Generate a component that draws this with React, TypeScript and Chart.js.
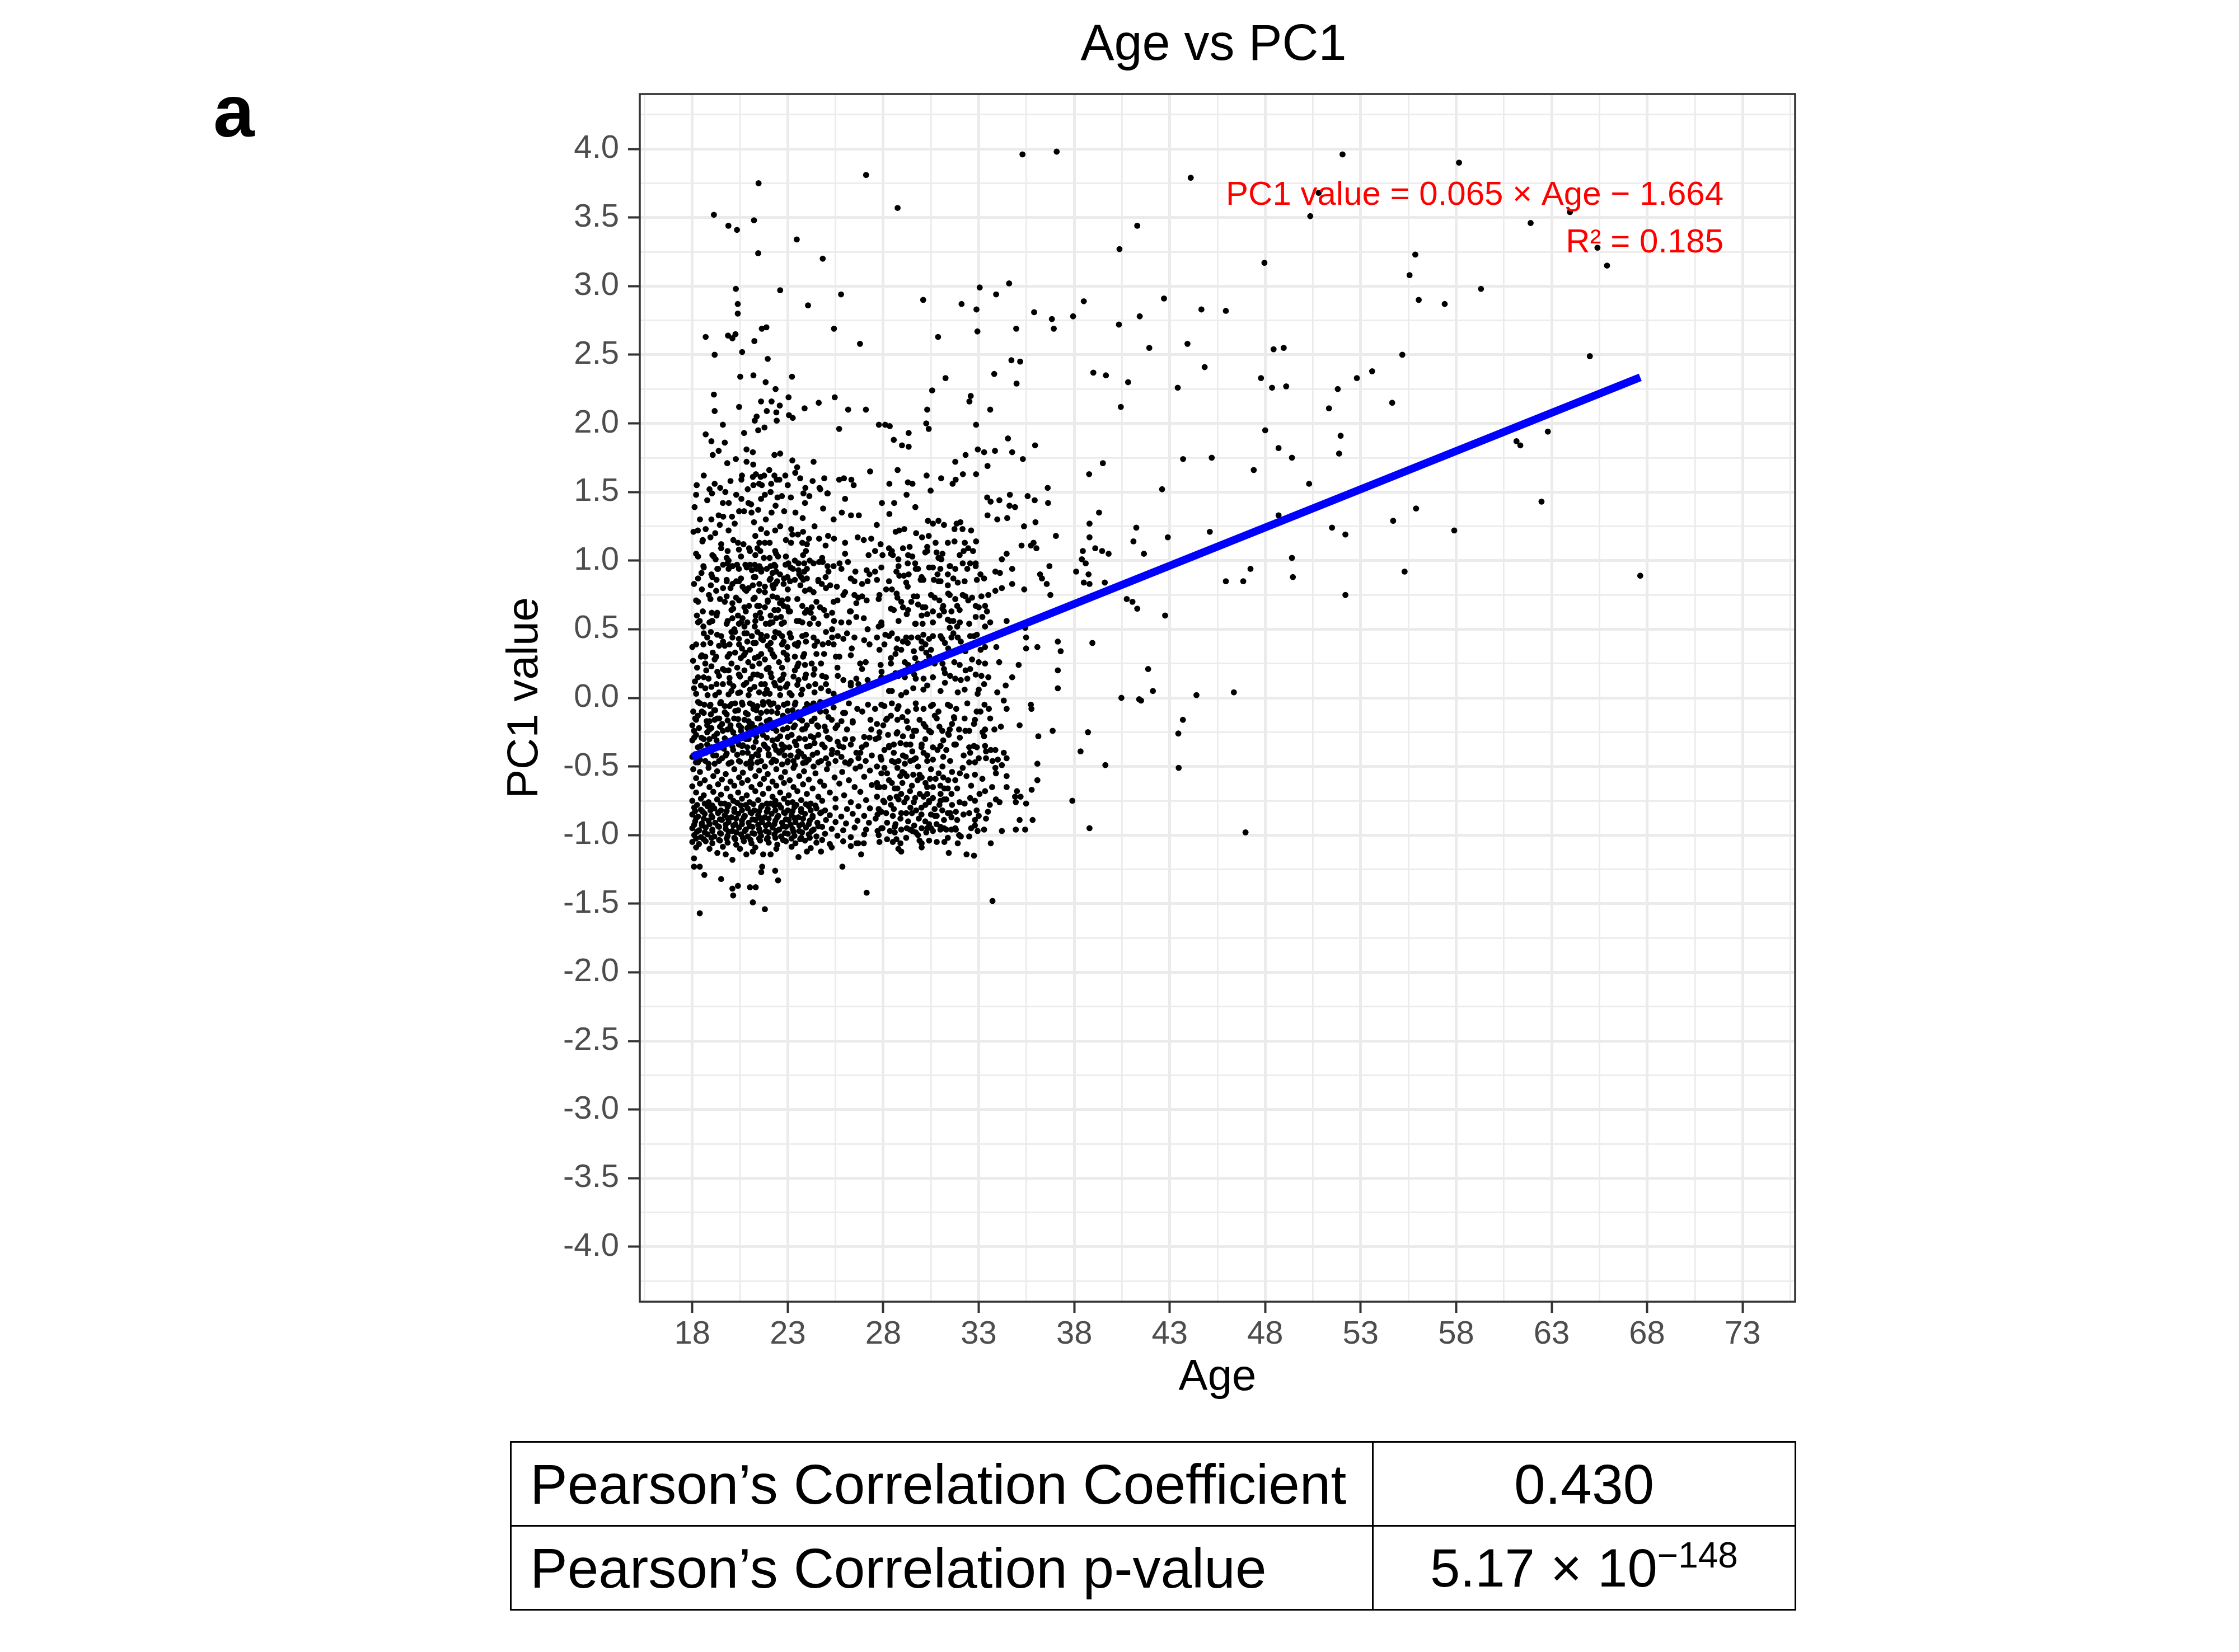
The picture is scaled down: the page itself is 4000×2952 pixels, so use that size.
import React, { useEffect, useRef } from "react";
import { Chart, registerables } from "chart.js";

Chart.register(...registerables);

const FONT = "'Liberation Sans', Arial, Helvetica, sans-serif";

// axis breaks (ggplot style: labelled majors + unlabelled minors)
const xMajorTicks = [18, 23, 28, 33, 38, 43, 48, 53, 58, 63, 68, 73];
const xMinorTicks = [15.5, 20.5, 25.5, 30.5, 35.5, 40.5, 45.5, 50.5, 55.5, 60.5, 65.5, 70.5, 75.5];
const yMajorTicks = [-4, -3.5, -3, -2.5, -2, -1.5, -1, -0.5, 0, 0.5, 1, 1.5, 2, 2.5, 3, 3.5, 4];
const yMinorTicks = [-4.25, -3.75, -3.25, -2.75, -2.25, -1.75, -1.25, -0.75, -0.25, 0.25, 0.75, 1.25, 1.75, 2.25, 2.75, 3.25, 3.75, 4.25];

// fitted line, as drawn
const fitAge = [18, 67.64];
const fitPc1 = [-0.43, 2.336];

const equationText = "PC1 value = 0.065 × Age − 1.664";
const r2Text = "R² = 0.185";
const annotAge = 72.0;
const annotPc1 = [3.593, 3.246];

const tableLabels = ["Pearson’s Correlation Coefficient", "Pearson’s Correlation p-value"];
const coefText = "0.430";
const pMantissa = "5.17";
const pExponent = "−148";

// [age, PC1] pairs
const upperSparse: [number, number][] = [
  [35.29,3.96],[37.08,3.98],[27.1,3.81],[21.47,3.75],[28.75,3.57],[19.13,3.52],[19.89,3.44],[20.34,3.41],[21.23,3.48],[21.45,3.24],[23.47,3.34],[24.83,3.2],
  [20.28,2.98],[20.38,2.87],[20.38,2.8],[22.6,2.97],[24.06,2.86],[25.79,2.94],[30.09,2.9],[32.1,2.87],[32.88,2.83],[33.05,2.99],[33.91,2.94],[34.59,3.02],[35.9,2.81],[36.83,2.76],[36.93,2.69],
  [18.7,2.63],[19.17,2.5],[19.87,2.64],[20.1,2.62],[20.26,2.65],[21.25,2.6],[21.64,2.69],[21.88,2.7],[20.61,2.52],[21.95,2.47],[25.42,2.69],[26.78,2.58],[30.87,2.63],[32.93,2.67],[34.96,2.69],
  [19.13,2.21],[19.17,2.09],[19.6,1.99],[20.51,2.34],[21.2,2.35],[21.84,2.3],[22.36,2.25],[20.45,2.12],[21.27,2.02],[21.37,2.05],[21.6,2.16],[21.9,2.09],[22.15,2.16],[22.4,2.08],[22.58,2.13],[22.42,2.02],[23.04,2.19],[23.22,2.34],[23.06,2.06],[23.26,2.04],[21.45,1.95],[21.78,1.97],[23.88,2.11],[24.62,2.15],[25.46,2.19],[26.16,2.1],[27.09,2.1],[25.69,1.96],[27.77,1.99],[28.1,1.99],[28.34,1.98],[28.55,1.88],[28.98,1.84],[29.33,1.83],[29.33,1.93],[30.25,2.0],[30.38,1.96],[30.56,2.24],[30.3,2.1],[31.26,2.33],[32.51,2.16],[32.58,2.2],[32.86,1.99],[33.6,2.1],[33.81,2.36],[34.71,2.46],[35.17,2.45],[34.98,2.29],[34.53,1.89],[35.95,1.84],[34.75,1.79],[35.31,1.74],[32.31,1.77],[32.95,1.81],[33.28,1.79],[33.85,1.8],[33.46,1.69],[32.86,1.63],
  [18.7,1.92],[19.0,1.87],[19.7,1.86],[19.07,1.77],[19.38,1.8],[19.83,1.71],[20.28,1.74],[20.57,1.59],[20.71,1.93],[20.84,1.81],[20.84,1.72],[21.17,1.79],[21.19,1.7],[21.17,1.61],[21.33,1.63],[21.58,1.61],[21.76,1.62],[22.03,1.66],[21.5,1.56],[21.64,1.55],[22.13,1.56],[22.42,1.59],[22.56,1.59],[22.3,1.77],[22.6,1.78],[22.87,1.62],[23.24,1.73],[23.49,1.68],[23.39,1.64],[23.65,1.6],[23.92,1.53],[24.35,1.72],[23.82,1.49],[24.7,1.52],[24.91,1.6],[25.07,1.49],[25.69,1.59],[25.94,1.6],[26.33,1.59],[26.45,1.55],[27.31,1.65],[28.32,1.56],[28.75,1.66],[29.29,1.57],[29.53,1.56],[30.27,1.62],[30.48,1.51],[31.03,1.6],[31.63,1.56],[31.79,1.59],[32.17,1.63],[31.77,1.72],
  [18.12,1.39],[18.29,1.22],[18.06,1.21],[18.23,1.55],[18.78,1.44],[18.55,1.15],[18.95,1.17],[18.7,1.23],[19.03,1.49],[19.17,1.56],[19.46,1.53],[19.38,1.33],[19.44,1.26],[19.62,1.32],[19.73,1.5],[19.91,1.42],[20.08,1.32],[20.22,1.27],[20.3,1.48],[20.57,1.45],[20.71,1.36],[20.94,1.42],[21.1,1.35],[21.08,1.41],[21.45,1.37],[21.6,1.45],[21.8,1.48],[21.23,1.28],[21.6,1.23],[22.15,1.35],[22.36,1.4],[22.46,1.46],[22.69,1.47],[22.81,1.36],[22.34,1.22],[23.16,1.46],[23.18,1.23],[23.24,1.19],[23.53,1.19],[23.8,1.21],[23.78,1.31],[24.13,1.47],[24.66,1.53],[24.85,1.38],[25.09,1.49],[24.11,1.16],[24.64,1.16],[25.11,1.18],[25.42,1.16],[25.83,1.35],[26.31,1.33],[26.72,1.33],[26.66,1.17],[26.98,1.15],[27.37,1.16],[27.66,1.26],[27.93,1.42],[28.32,1.34],[28.57,1.42],[28.65,1.21],[28.83,1.22],[29.1,1.23],[29.22,1.48],[29.68,1.39],[29.72,1.2],[30.03,1.17],[30.34,1.29],[30.38,1.18],[30.6,1.27],[30.89,1.29],[31.18,1.26],[31.73,1.23],[31.84,1.27],[32.04,1.28],[32.15,1.23],[32.6,1.22],[31.73,1.14],[32.27,1.13],[32.86,1.14],[33.44,1.46],[33.62,1.43],[33.46,1.33],[33.97,1.3],[34.49,1.31],[34.08,1.44],[34.63,1.48],[34.61,1.4],[34.9,1.39],[35.37,1.25],[35.56,1.47],[35.93,1.44],[35.97,1.28],[36.63,1.42],[36.61,1.53],[37.04,1.18],
];

const olderSparse: [number, number][] = [
  [52.05,3.96],[58.15,3.9],[44.1,3.79],[50.8,3.68],[50.36,3.51],[63.96,3.54],[61.9,3.46],[41.3,3.44],[40.37,3.27],[65.4,3.28],[65.9,3.15],[47.96,3.17],[55.86,3.23],[55.56,3.08],[59.3,2.98],[56.04,2.9],[57.4,2.87],[38.5,2.89],[37.94,2.78],[42.7,2.91],[44.66,2.83],[45.94,2.82],[41.43,2.78],[40.34,2.72],[41.93,2.55],[43.93,2.58],[44.83,2.41],[39.0,2.37],[39.66,2.35],[40.82,2.3],[43.42,2.26],[40.44,2.12],[48.44,2.54],[48.97,2.55],[47.78,2.33],[48.36,2.26],[49.1,2.27],[51.8,2.25],[52.8,2.33],[53.6,2.38],[55.18,2.5],[51.34,2.11],[54.65,2.15],[65.0,2.49],[48.0,1.95],[48.7,1.82],[49.4,1.75],[51.95,1.91],[51.87,1.78],[61.16,1.87],[61.36,1.84],[62.8,1.94],[38.78,1.63],[39.5,1.71],[43.7,1.74],[45.2,1.75],[47.4,1.66],[50.3,1.56],[42.6,1.52],[39.3,1.35],[38.8,1.27],[38.8,1.17],[38.45,1.07],[39.1,1.09],[39.46,1.07],[39.8,1.05],[38.4,1.01],[38.6,0.98],[38.1,0.92],[38.75,0.9],[38.5,0.84],[38.8,0.83],[39.6,0.84],[41.25,1.24],[41.1,1.14],[41.65,1.05],[42.9,1.17],[45.1,1.21],[40.75,0.72],[41.05,0.7],[41.3,0.65],[42.76,0.6],[45.94,0.85],[46.85,0.85],[47.23,0.94],[49.4,1.02],[49.45,0.88],[48.7,1.33],[51.5,1.24],[52.2,1.19],[52.2,0.75],[54.7,1.29],[55.9,1.38],[55.3,0.92],[57.9,1.22],[62.47,1.43],[67.64,0.89],[38.95,0.4],
  [40.47,0.0],[41.4,-0.01],[41.5,-0.02],[41.87,0.21],[42.12,0.05],[44.4,0.02],[46.36,0.04],[43.69,-0.16],[43.45,-0.26],[43.47,-0.51],[38.72,-0.25],[38.33,-0.39],[39.63,-0.49],[37.9,-0.75],[38.8,-0.95],[46.97,-0.98],
];

const youngUpperCore: [number, number][] = [
  [18.53,1.14],[19.51,1.12],[19.51,1.09],[19.85,1.07],[20.39,1.13],[20.68,1.12],[20.44,1.08],[20.97,1.09],[21.02,1.07],[21.51,1.13],[21.8,1.13],[22.05,1.13],[21.41,1.09],[21.56,1.07],[22.34,1.07],[22.39,1.05],[22.49,1.03],[23.17,1.13],[23.76,1.13],[24.0,1.12],[23.95,1.07],[24.98,1.11],[26.0,1.13],[26.0,1.05],[27.23,1.04],
  [19.12,1.03],[19.22,1.01],[18.58,0.96],[18.48,0.91],[19.31,0.94],[19.61,0.97],[19.85,0.98],[19.9,0.94],[20.1,0.96],[20.34,0.97],[20.44,0.94],[20.78,0.97],[21.02,0.97],[21.27,0.97],[21.12,0.93],[21.37,0.94],[21.51,0.96],[21.61,0.92],[21.9,0.94],[22.1,0.96],[22.29,0.97],[22.2,0.91],[22.39,0.92],[22.59,0.9],[22.88,0.97],[23.03,0.98],[23.37,1.0],[23.27,0.94],[23.56,0.98],[23.86,0.98],[24.15,1.0],[24.35,0.98],[24.64,0.99],[24.83,0.99],[25.08,0.96],[25.13,0.92],[23.86,0.92],[23.56,0.93],[25.71,0.98],[25.81,0.94],[26.15,0.99],[26.54,0.92],[27.13,0.93],[27.28,0.9],
  [18.09,0.83],[18.97,0.82],[19.27,0.86],[19.61,0.8],[19.8,0.85],[20.1,0.83],[20.44,0.85],[20.63,0.81],[20.83,0.78],[21.22,0.88],[21.17,0.82],[21.51,0.83],[21.8,0.81],[21.8,0.77],[22.1,0.87],[22.2,0.82],[22.44,0.85],[22.78,0.83],[22.98,0.88],[23.12,0.85],[23.37,0.86],[23.66,0.82],[23.81,0.86],[24.0,0.87],[24.15,0.79],[24.35,0.77],[24.78,0.83],[24.98,0.88],[25.22,0.82],[25.57,0.81],[26.0,0.77],[26.49,0.85],[26.89,0.83],[27.18,0.85],
  [18.87,0.75],[19.8,0.74],[20.29,0.73],[20.1,0.69],[20.14,0.65],[20.73,0.66],[20.97,0.67],[21.27,0.73],[21.51,0.67],[21.8,0.66],[21.95,0.71],[22.2,0.74],[22.44,0.73],[22.59,0.69],[22.78,0.67],[22.98,0.66],[23.12,0.63],[22.49,0.64],[23.76,0.67],[24.0,0.64],[24.25,0.66],[24.69,0.66],[25.91,0.75],[26.49,0.75],[26.69,0.73],[26.89,0.74],[27.13,0.71],[26.59,0.69],[26.25,0.63],
  [18.24,0.6],[18.39,0.56],[19.02,0.62],[19.27,0.6],[19.02,0.56],[18.58,0.52],[19.85,0.56],[20.1,0.58],[20.39,0.6],[20.63,0.58],[20.44,0.54],[20.73,0.52],[20.88,0.55],[21.32,0.6],[21.27,0.52],[21.61,0.58],[21.85,0.54],[22.1,0.6],[22.2,0.55],[22.39,0.58],[22.64,0.59],[22.68,0.54],[23.47,0.56],[23.76,0.55],[24.15,0.54],[24.35,0.58],[25.03,0.6],[25.32,0.62],[25.42,0.56],[26.3,0.63],[26.59,0.59],[26.98,0.58],[27.18,0.5],[25.32,0.5],
  [18.0,0.37],[18.58,0.39],[18.78,0.44],[18.97,0.48],[19.51,0.45],[19.61,0.41],[19.95,0.39],[20.1,0.44],[20.24,0.48],[20.44,0.43],[20.73,0.47],[20.88,0.41],[21.12,0.45],[21.32,0.4],[21.41,0.48],[21.61,0.43],[21.9,0.45],[22.1,0.4],[22.29,0.44],[22.54,0.47],[22.78,0.41],[22.98,0.37],[23.17,0.44],[23.37,0.39],[23.76,0.45],[23.95,0.41],[24.35,0.44],[24.54,0.41],[24.83,0.39],[25.13,0.4],[25.32,0.44],[25.62,0.45],[25.91,0.43],[26.35,0.36],[26.49,0.44],[27.28,0.39],
  [18.04,0.27],[18.68,0.3],[18.68,0.25],[19.07,0.33],[19.17,0.28],[19.85,0.3],[20.05,0.25],[20.24,0.33],[20.54,0.29],[20.78,0.33],[21.02,0.35],[20.93,0.26],[21.27,0.29],[21.61,0.32],[21.51,0.25],[21.8,0.28],[22.1,0.35],[22.29,0.3],[22.54,0.26],[22.78,0.33],[22.98,0.28],[23.37,0.3],[23.56,0.25],[23.86,0.32],[24.25,0.25],[24.74,0.25],[25.52,0.3],[26.79,0.25],[27.08,0.26],
  [18.14,0.12],[18.09,0.07],[18.73,0.2],[18.68,0.07],[19.31,0.19],[19.27,0.1],[19.9,0.2],[19.95,0.11],[20.05,0.05],[20.44,0.17],[20.73,0.2],[20.83,0.11],[21.02,0.06],[21.41,0.17],[21.61,0.1],[21.8,0.03],[22.1,0.18],[22.29,0.11],[22.59,0.07],[22.78,0.17],[22.98,0.1],[23.37,0.2],[23.56,0.13],[23.76,0.06],[23.95,0.17],[24.35,0.17],[24.44,0.1],[24.74,0.07],[25.13,0.05],[25.62,0.16],[25.91,0.13],[26.3,0.11],[26.59,0.14],[26.89,0.21],[27.18,0.13],
  [18.2,1.05],[18.3,0.7],[18.45,0.3],[18.6,0.15],[18.9,0.55],[19.0,0.9],[19.4,0.38],[19.45,0.72],[19.7,0.2],[19.9,1.0],[20.2,0.5],[20.3,0.85],[20.5,0.04],[20.6,0.36],[20.95,0.8],[21.2,0.17],[21.4,0.67],[21.7,0.42],[21.75,1.02],[22.0,0.22],[22.1,0.55],[22.35,0.83],[22.6,0.13],[22.7,0.45],[23.0,0.72],[23.2,0.02],[23.5,0.38],[23.6,0.9],[23.9,0.24],[24.2,0.62],[24.5,0.32],[24.6,0.85],[25.0,0.15],[25.4,0.7],[25.7,0.3],[26.2,0.55],[26.7,0.1],[27.0,0.42],[19.2,0.02],[21.9,0.06],
];

const youngLowerCore: [number, number][] = [
  [18.63,-0.05],[18.92,-0.06],[19.46,-0.04],[19.7,-0.06],[19.95,-0.06],[20.24,-0.04],[20.63,-0.05],[21.02,-0.04],[21.41,-0.06],[21.71,-0.05],[22.1,-0.05],[22.49,-0.07],[22.98,-0.04],[23.37,-0.05],[24.15,-0.06],[24.35,-0.04],[24.93,-0.04],
  [18.29,-0.13],[18.0,-0.2],[18.78,-0.2],[18.97,-0.12],[19.17,-0.16],[19.41,-0.15],[19.56,-0.19],[19.85,-0.23],[20.19,-0.15],[20.44,-0.2],[20.73,-0.16],[20.88,-0.22],[21.12,-0.19],[21.41,-0.15],[21.61,-0.2],[21.9,-0.17],[22.29,-0.21],[22.59,-0.17],[22.98,-0.22],[23.37,-0.2],[23.76,-0.23],[24.25,-0.17],[24.54,-0.2],[24.93,-0.21],[25.13,-0.14],[25.81,-0.17],[26.1,-0.23],[26.64,-0.08],[27.33,-0.16],[27.37,-0.23],[18.09,-0.24],[18.78,-0.25],[20.14,-0.25],[21.22,-0.25],
  [18.3,-0.03],[18.5,-0.1],[18.9,-0.17],[19.2,-0.09],[19.6,-0.24],[19.8,-0.12],[20.0,-0.2],[20.4,-0.09],[20.55,-0.24],[20.9,-0.12],[21.2,-0.08],[21.3,-0.22],[21.6,-0.11],[21.9,-0.23],[22.15,-0.1],[22.4,-0.24],[22.75,-0.13],[23.1,-0.17],[23.25,-0.09],[23.6,-0.15],[23.9,-0.08],[24.0,-0.2],[24.7,-0.1],[25.0,-0.24],[25.4,-0.07],[25.6,-0.2],[26.0,-0.11],[26.4,-0.18],[26.9,-0.1],[27.2,-0.05],[18.15,-0.15],[19.0,-0.22],[22.0,-0.03],[22.8,-0.05],[21.0,-0.2],
  [18.0,-0.31],[18.29,-0.36],[18.0,-0.43],[18.48,-0.29],[18.78,-0.34],[18.97,-0.39],[19.27,-0.31],[19.46,-0.36],[19.75,-0.42],[19.95,-0.32],[20.14,-0.38],[20.44,-0.34],[20.63,-0.4],[20.88,-0.36],[21.12,-0.43],[21.32,-0.32],[21.51,-0.38],[21.8,-0.35],[22.0,-0.42],[22.2,-0.31],[22.39,-0.38],[22.68,-0.34],[22.83,-0.42],[23.08,-0.36],[23.37,-0.32],[23.56,-0.39],[23.86,-0.43],[24.15,-0.35],[24.35,-0.29],[24.54,-0.4],[24.74,-0.46],[24.93,-0.36],[25.32,-0.38],[25.61,-0.32],[25.91,-0.36],[25.81,-0.43],[26.3,-0.34],[26.59,-0.4],[26.88,-0.36],[27.28,-0.29],[27.08,-0.46],
  [18.19,-0.47],[18.68,-0.46],[19.17,-0.48],[19.56,-0.44],[20.05,-0.47],[20.44,-0.46],[20.83,-0.48],[21.41,-0.47],[21.8,-0.5],[22.39,-0.46],[22.98,-0.47],[23.37,-0.49],[23.95,-0.47],[24.35,-0.5],[25.13,-0.48],[26.3,-0.46],[26.79,-0.5],
  [18.2,-0.27],[18.4,-0.45],[18.9,-0.3],[19.1,-0.42],[19.3,-0.26],[19.65,-0.37],[19.9,-0.48],[20.3,-0.29],[20.6,-0.35],[20.95,-0.3],[21.05,-0.46],[21.35,-0.41],[21.7,-0.27],[21.95,-0.37],[22.25,-0.45],[22.6,-0.28],[22.7,-0.38],[23.0,-0.46],[23.2,-0.27],[23.5,-0.43],[23.9,-0.3],[24.1,-0.45],[24.4,-0.33],[24.6,-0.27],[25.0,-0.44],[25.2,-0.3],[25.6,-0.4],[26.0,-0.47],[26.4,-0.3],[26.7,-0.44],[27.1,-0.34],[27.4,-0.42],
];

const youngDenseRows: [number, number][] = [
  [18.05,-0.52],[18.4,-0.54],[18.85,-0.51],[19.3,-0.535],[19.75,-0.555],[20.2,-0.52],[20.65,-0.545],[21.05,-0.51],[21.5,-0.53],[21.95,-0.555],[22.4,-0.52],[22.85,-0.54],[23.3,-0.51],[23.85,-0.535],[24.45,-0.55],[25.05,-0.52],[25.85,-0.54],[26.55,-0.515],[27.3,-0.53],
  [18.2,-0.585],[18.65,-0.6],[19.1,-0.57],[19.55,-0.595],[20.0,-0.61],[20.45,-0.58],[20.9,-0.6],[21.3,-0.57],[21.75,-0.59],[22.2,-0.61],[22.65,-0.58],[23.1,-0.6],[23.6,-0.57],[24.1,-0.595],[24.7,-0.61],[25.45,-0.58],[26.2,-0.6],[27.0,-0.575],
  [18.0,-0.645],[18.4,-0.625],[18.9,-0.65],[19.35,-0.63],[19.8,-0.66],[20.2,-0.64],[20.6,-0.62],[21.1,-0.65],[21.55,-0.63],[22.0,-0.66],[22.4,-0.64],[22.8,-0.62],[23.3,-0.65],[23.8,-0.63],[24.3,-0.66],[24.9,-0.64],[25.7,-0.625],[26.5,-0.65],[27.4,-0.635],
  [18.2,-0.69],[18.6,-0.71],[19.1,-0.685],[19.5,-0.705],[20.0,-0.72],[20.4,-0.69],[20.85,-0.71],[21.3,-0.68],[21.7,-0.7],[22.2,-0.72],[22.6,-0.69],[23.05,-0.71],[23.5,-0.68],[24.0,-0.7],[24.6,-0.72],[25.2,-0.69],[25.95,-0.71],[26.8,-0.685],
  [18.0,-0.75],[18.45,-0.735],[18.85,-0.76],[19.3,-0.74],[19.7,-0.77],[20.15,-0.75],[20.6,-0.735],[21.0,-0.76],[21.45,-0.745],[21.9,-0.77],[22.35,-0.75],[22.8,-0.735],[23.25,-0.76],[23.7,-0.745],[24.2,-0.77],[24.8,-0.75],[25.5,-0.735],[26.3,-0.76],[27.1,-0.745],
  [18.1,-0.8],[18.45,-0.815],[18.8,-0.79],[19.15,-0.805],[19.5,-0.82],[19.85,-0.795],[20.2,-0.81],[20.55,-0.785],[20.9,-0.805],[21.25,-0.82],[21.6,-0.795],[21.95,-0.81],[22.3,-0.785],[22.65,-0.8],[23.0,-0.82],[23.35,-0.795],[23.7,-0.81],[24.1,-0.79],[24.5,-0.805],[24.95,-0.82],[25.5,-0.8],[26.1,-0.81],[26.7,-0.79],[27.3,-0.805],
  [18.0,-0.85],[18.3,-0.865],[18.65,-0.845],[19.0,-0.86],[19.35,-0.84],[19.7,-0.855],[20.05,-0.87],[20.4,-0.845],[20.75,-0.86],[21.1,-0.84],[21.45,-0.855],[21.8,-0.87],[22.15,-0.845],[22.5,-0.86],[22.85,-0.84],[23.2,-0.855],[23.55,-0.87],[23.9,-0.845],[24.3,-0.86],[24.7,-0.84],[25.2,-0.855],[25.8,-0.865],[26.4,-0.845],[27.0,-0.86],
  [18.15,-0.9],[18.5,-0.915],[18.85,-0.895],[19.2,-0.91],[19.55,-0.89],[19.9,-0.905],[20.25,-0.92],[20.6,-0.895],[20.95,-0.91],[21.3,-0.89],[21.65,-0.905],[22.0,-0.92],[22.35,-0.895],[22.7,-0.91],[23.05,-0.89],[23.4,-0.905],[23.75,-0.92],[24.15,-0.895],[24.55,-0.91],[25.0,-0.89],[25.5,-0.905],[26.05,-0.915],[26.65,-0.895],[27.25,-0.91],
  [18.0,-0.95],[18.35,-0.965],[18.7,-0.945],[19.05,-0.96],[19.4,-0.94],[19.75,-0.955],[20.1,-0.97],[20.45,-0.945],[20.8,-0.96],[21.15,-0.94],[21.5,-0.955],[21.85,-0.97],[22.2,-0.945],[22.55,-0.96],[22.9,-0.94],[23.25,-0.955],[23.6,-0.97],[23.95,-0.945],[24.35,-0.96],[24.8,-0.94],[25.3,-0.955],[25.9,-0.965],[26.5,-0.945],[27.1,-0.96],
  [18.1,-1.0],[18.45,-1.015],[18.8,-0.995],[19.15,-1.01],[19.5,-0.99],[19.85,-1.005],[20.2,-1.02],[20.55,-0.995],[20.9,-1.01],[21.25,-0.99],[21.6,-1.005],[21.95,-1.02],[22.3,-0.995],[22.65,-1.01],[23.0,-0.99],[23.35,-1.005],[23.7,-1.02],[24.1,-0.995],[24.5,-1.01],[24.95,-0.99],[25.6,-1.005],[26.3,-1.015],[27.0,-0.995],
  [18.0,-1.05],[18.35,-1.065],[18.7,-1.045],[19.05,-1.06],[19.45,-1.04],[19.85,-1.055],[20.3,-1.07],[20.7,-1.045],[21.1,-1.06],[21.55,-1.04],[22.0,-1.055],[22.45,-1.07],[22.9,-1.045],[23.4,-1.06],[23.9,-1.04],[24.5,-1.055],[25.2,-1.065],[25.9,-1.045],[26.6,-1.06],
  [18.2,-1.09],[18.9,-1.1],[19.6,-1.085],[20.5,-1.1],[21.3,-1.09],[22.4,-1.1],[23.2,-1.085],[24.2,-1.095],[25.3,-1.09],
];

const youngDenseFill: [number, number][] = [
  [18.25,-0.78],[18.65,-0.77],[19.05,-0.785],[19.5,-0.77],[19.9,-0.78],[20.35,-0.765],[20.8,-0.78],[21.2,-0.775],[21.65,-0.785],[22.1,-0.77],[22.55,-0.78],[23.0,-0.765],[23.45,-0.78],[23.95,-0.775],[24.45,-0.785],
  [18.15,-0.825],[18.55,-0.83],[18.95,-0.82],[19.35,-0.835],[19.8,-0.825],[20.2,-0.83],[20.6,-0.82],[21.05,-0.835],[21.5,-0.825],[21.9,-0.83],[22.35,-0.82],[22.8,-0.835],[23.25,-0.825],[23.7,-0.83],[24.2,-0.82],[24.75,-0.835],
  [18.2,-0.875],[18.6,-0.88],[19.05,-0.87],[19.45,-0.885],[19.85,-0.875],[20.3,-0.88],[20.7,-0.87],[21.15,-0.885],[21.55,-0.875],[22.0,-0.88],[22.45,-0.87],[22.9,-0.885],[23.35,-0.875],[23.8,-0.88],[24.3,-0.87],
  [18.1,-0.925],[18.5,-0.93],[18.9,-0.92],[19.35,-0.935],[19.75,-0.925],[20.15,-0.93],[20.6,-0.92],[21.0,-0.935],[21.45,-0.925],[21.85,-0.93],[22.3,-0.92],[22.75,-0.935],[23.15,-0.925],[23.6,-0.93],[24.1,-0.92],[24.6,-0.935],
  [18.25,-0.975],[18.65,-0.98],[19.05,-0.97],[19.45,-0.985],[19.9,-0.975],[20.3,-0.98],[20.75,-0.97],[21.15,-0.985],[21.55,-0.975],[22.0,-0.98],[22.4,-0.97],[22.85,-0.985],[23.3,-0.975],[23.75,-0.98],[24.25,-0.97],
  [18.2,-1.025],[18.6,-1.03],[19.0,-1.02],[19.4,-1.035],[19.8,-1.025],[20.25,-1.03],[20.65,-1.02],[21.05,-1.035],[21.5,-1.025],[21.9,-1.03],[22.35,-1.02],[22.75,-1.035],[23.2,-1.025],[23.65,-1.03],[24.15,-1.02],[24.8,-1.035],
];

const youngMidFill: [number, number][] = [
  [18.3,-0.47],[18.85,-0.48],[19.4,-0.46],[19.95,-0.475],[20.5,-0.465],[21.1,-0.48],[21.6,-0.46],[22.15,-0.47],[22.7,-0.485],[23.3,-0.46],[23.8,-0.475],[24.6,-0.47],[25.5,-0.46],[26.2,-0.48],
  [18.15,-0.41],[18.7,-0.4],[19.25,-0.42],[19.8,-0.405],[20.35,-0.415],[20.9,-0.4],[21.45,-0.42],[22.0,-0.41],[22.55,-0.4],[23.15,-0.42],[23.7,-0.405],[24.3,-0.415],[25.3,-0.41],[26.8,-0.4],
  [18.45,-0.35],[19.0,-0.36],[19.55,-0.34],[20.1,-0.355],[20.65,-0.345],[21.2,-0.36],[21.75,-0.34],[22.3,-0.35],[22.85,-0.36],[23.45,-0.345],[24.0,-0.355],[24.8,-0.34],[25.7,-0.35],
  [18.1,-0.29],[18.6,-0.3],[19.15,-0.28],[19.7,-0.295],[20.25,-0.285],[20.8,-0.3],[21.35,-0.28],[21.9,-0.29],[22.45,-0.3],[23.0,-0.285],[23.6,-0.295],[24.2,-0.28],[25.1,-0.29],[26.0,-0.3],[27.0,-0.285],
  [18.35,-0.22],[18.9,-0.23],[19.45,-0.21],[20.0,-0.225],[20.55,-0.215],[21.1,-0.23],[21.65,-0.21],[22.2,-0.22],[22.75,-0.23],[23.3,-0.215],[23.9,-0.225],[24.6,-0.21],[25.5,-0.22],
  [18.2,-0.16],[18.75,-0.17],[19.3,-0.15],[19.85,-0.165],[20.4,-0.155],[20.95,-0.17],[21.5,-0.15],[22.05,-0.16],[22.6,-0.17],[23.15,-0.155],[23.75,-0.165],[24.4,-0.15],[25.3,-0.16],[26.4,-0.17],
  [18.05,-0.1],[18.6,-0.11],[19.15,-0.09],[19.7,-0.105],[20.25,-0.095],[20.8,-0.11],[21.35,-0.09],[21.9,-0.1],[22.45,-0.11],[23.0,-0.095],[23.55,-0.105],[24.2,-0.09],[25.0,-0.1],[25.9,-0.11],
  [18.4,-0.04],[18.95,-0.05],[19.5,-0.03],[20.05,-0.045],[20.6,-0.035],[21.15,-0.05],[21.7,-0.03],[22.25,-0.04],[22.8,-0.05],[23.4,-0.035],[24.0,-0.045],[24.7,-0.03],[26.2,-0.04],
  [18.2,0.03],[18.8,0.02],[19.4,0.04],[19.9,0.025],[20.4,0.035],[20.95,0.02],[21.5,0.04],[22.05,0.03],[22.6,0.02],[23.1,0.035],[23.7,0.025],[24.4,0.04],[25.4,0.03],
  [18.45,0.09],[19.0,0.08],[19.6,0.1],[20.15,0.085],[20.7,0.095],[21.25,0.08],[21.8,0.1],[22.35,0.09],[22.9,0.08],[23.5,0.095],[24.1,0.085],[25.0,0.1],[26.3,0.09],
  [18.3,0.15],[18.85,0.14],[19.4,0.16],[19.95,0.145],[20.5,0.155],[21.05,0.14],[21.6,0.16],[22.15,0.15],[22.7,0.14],[23.3,0.155],[23.9,0.145],[24.8,0.16],
];

const youngTopFill: [number, number][] = [
  [18.25,0.22],[19.0,0.23],[19.6,0.21],[20.35,0.22],[21.15,0.23],[21.9,0.21],[22.7,0.22],[23.5,0.23],[24.4,0.21],[25.6,0.22],
  [18.5,0.31],[19.25,0.3],[19.95,0.32],[20.7,0.31],[21.45,0.3],[22.2,0.32],[22.95,0.31],[23.8,0.3],[24.9,0.32],[26.3,0.31],
  [18.2,0.39],[18.95,0.4],[19.7,0.38],[20.45,0.39],[21.2,0.4],[21.95,0.38],[22.7,0.39],[23.55,0.4],[24.4,0.38],[25.4,0.39],
  [18.6,0.47],[19.3,0.46],[20.05,0.48],[20.85,0.47],[21.6,0.46],[22.35,0.48],[23.1,0.47],[23.95,0.46],[25.0,0.48],[26.1,0.47],
  [18.3,0.55],[19.05,0.56],[19.8,0.54],[20.55,0.55],[21.3,0.56],[22.05,0.54],[22.8,0.55],[23.6,0.56],[24.6,0.54],[25.8,0.55],
  [18.55,0.63],[19.3,0.62],[20.05,0.64],[20.8,0.63],[21.55,0.62],[22.3,0.64],[23.05,0.63],[23.9,0.62],[24.9,0.64],
  [18.2,0.71],[18.95,0.72],[19.7,0.7],[20.45,0.71],[21.2,0.72],[21.95,0.7],[22.7,0.71],[23.5,0.72],[24.5,0.7],[25.6,0.71],
  [18.5,0.79],[19.25,0.78],[20.0,0.8],[20.75,0.79],[21.5,0.78],[22.25,0.8],[23.0,0.79],[23.9,0.78],[25.0,0.8],
  [18.3,0.87],[19.05,0.88],[19.8,0.86],[20.55,0.87],[21.3,0.88],[22.05,0.86],[22.8,0.87],[23.7,0.88],[24.6,0.86],[26.3,0.87],
  [18.6,0.95],[19.35,0.94],[20.1,0.96],[20.85,0.95],[21.6,0.94],[22.35,0.96],[23.15,0.95],[24.0,0.94],[25.4,0.96],
  [18.3,1.03],[19.05,1.04],[19.8,1.02],[20.55,1.03],[21.3,1.04],[22.05,1.02],[22.9,1.03],[23.8,1.04],[24.8,1.02],
  [18.4,1.3],[18.9,1.52],[19.2,1.2],[19.6,1.42],[20.0,1.58],[20.15,1.15],[20.45,1.36],[20.9,1.52],[21.3,1.18],[21.85,1.3],[22.1,1.5],[22.6,1.25],[23.0,1.55],[23.4,1.35],[23.9,1.42],[24.4,1.25],[18.2,1.48],[18.6,1.62],[19.0,1.3],[19.9,1.22],[20.6,1.62],[21.2,1.55],[21.9,1.2],[22.3,1.62],[22.9,1.15],[24.3,1.58],[25.4,1.3],[26.0,1.45],
];

const youngLowTail: [number, number][] = [
  [19.31,-1.13],[19.75,-1.14],[20.1,-1.18],[20.83,-1.14],[21.17,-1.12],[21.71,-1.14],[22.1,-1.14],[23.56,-1.16],[24.0,-1.12],[24.74,-1.12],[26.84,-1.14],[26.3,-1.08],[26.69,-1.06],[26.98,-1.06],
  [18.63,-1.29],[19.51,-1.32],[20.1,-1.39],[20.39,-1.37],[20.14,-1.44],[21.02,-1.38],[21.32,-1.38],[21.17,-1.49],[21.8,-1.54],[22.49,-1.33],[22.34,-1.26],[21.66,-1.23],[21.61,-1.27],[18.39,-1.57],[18.09,-1.23],[18.39,-1.23],[18.09,-1.17],[25.86,-1.23],[27.13,-1.42],
];

const midUpperCore: [number, number][] = [
  [27.86,1.12],[28.3,1.09],[28.45,1.07],[27.57,1.07],[27.96,1.04],[28.5,1.04],[28.79,1.01],[29.03,1.09],[29.38,1.1],[29.52,1.03],[29.28,0.98],[29.67,0.98],[29.82,0.94],[28.69,0.92],[28.84,0.89],[29.08,0.89],[29.33,0.9],[27.57,0.92],[27.67,0.86],[30.01,0.88],[29.96,0.86],[29.28,0.81],[30.4,0.95],[30.3,1.1],[30.3,1.07],[30.74,1.13],[30.79,1.06],[30.89,1.02],[31.04,1.01],[30.99,0.94],[30.84,0.9],[30.65,0.86],[30.89,0.85],[31.38,1.13],[31.48,0.96],[31.77,0.94],[31.38,0.9],[31.67,0.87],[31.38,0.82],[32.16,0.98],[32.21,1.07],[32.45,1.09],[32.7,1.07],[32.55,0.98],[32.84,0.98],[32.84,0.96],[32.26,0.85],[33.09,0.9],[33.28,0.87],[33.87,0.92],[34.11,0.91],[34.21,1.01],[34.46,1.05],[34.75,0.94],[34.75,0.83],[34.21,0.8],[33.87,0.78],[35.38,0.79],[36.21,0.9],[36.31,0.87],[36.56,0.83],[36.7,0.96],[36.75,0.75],[35.87,1.13],[35.73,1.11],[36.02,1.09],[35.24,1.11],
  [27.76,0.72],[28.15,0.79],[28.45,0.79],[28.55,0.64],[28.74,0.73],[28.94,0.7],[29.03,0.66],[29.23,0.61],[29.47,0.7],[29.77,0.74],[29.82,0.68],[30.06,0.66],[30.01,0.6],[29.67,0.54],[30.06,0.54],[30.3,0.61],[30.6,0.63],[30.69,0.73],[30.94,0.71],[30.94,0.6],[31.14,0.67],[31.18,0.63],[31.48,0.75],[31.57,0.63],[31.38,0.57],[31.77,0.72],[31.87,0.67],[31.67,0.56],[31.87,0.52],[32.01,0.55],[32.16,0.75],[32.45,0.71],[32.65,0.73],[32.84,0.67],[32.84,0.59],[33.14,0.74],[33.33,0.67],[33.43,0.63],[33.19,0.59],[33.33,0.52],[34.46,0.56],
  [27.76,0.52],[27.91,0.53],[27.67,0.44],[28.11,0.46],[28.45,0.47],[28.74,0.43],[29.03,0.41],[29.28,0.4],[29.47,0.44],[29.82,0.44],[30.01,0.41],[30.21,0.39],[30.4,0.43],[30.6,0.45],[30.01,0.36],[30.25,0.33],[31.09,0.43],[31.23,0.4],[31.48,0.51],[31.67,0.47],[31.57,0.44],[32.55,0.45],[32.75,0.45],[32.06,0.41],[33.33,0.37],[33.92,0.37],[28.06,0.39],[28.4,0.29],[28.64,0.32],[28.94,0.35],[29.13,0.26],[29.67,0.29],[29.82,0.25],[30.4,0.3],[30.69,0.25],[31.18,0.21],[31.23,0.18],[31.72,0.26],[32.65,0.28],[32.31,0.2],[32.55,0.21],[33.33,0.25],[34.07,0.26],[35.09,0.24],[37.14,0.2],[27.86,0.24],[27.91,0.19],[28.64,0.18],[29.13,0.15],[29.62,0.17],[30.11,0.14],[30.3,0.09],[29.57,0.07],[31.23,0.11],[31.77,0.14],[32.06,0.13],[32.26,0.06],[32.84,0.17],[33.14,0.16],[32.94,0.03],[33.28,0.1],[33.97,0.04],[34.41,0.09],[34.75,0.15],[37.14,0.07],[28.45,0.05],[28.94,0.02],[37.14,0.41],[37.29,0.34],[35.48,0.36],[36.07,0.37],[35.48,0.44],[35.43,0.51],
];

const midLowerCore: [number, number][] = [
  [33.53,-0.08],[34.46,-0.08],[34.31,-0.02],[35.73,-0.05],[35.76,-0.08],[35.14,-0.2],[36.87,-0.24],[36.12,-0.28],[36.07,-0.48],[36.07,-0.6],[35.77,-0.67],[35.82,-0.89],[35.43,-0.96],[34.94,-0.96],[35.14,-0.89],[35.48,-0.77],[35.0,-0.68],[35.19,-0.72],[34.9,-0.72],[34.94,-0.76],[34.46,-0.57],[34.46,-0.65],[34.21,-0.97],[33.63,-1.06],[33.72,-1.48],[32.75,-1.15],[32.36,-1.14],[31.43,-1.13],[32.5,-1.01],[32.06,-1.01],[31.38,-1.02],
  [34.09,-0.76],[33.58,-0.78],[33.48,-0.83],[33.38,-0.88],[33.28,-0.96],[32.94,-0.97],[32.89,-0.82],[32.8,-0.89],[32.8,-0.93],[32.5,-0.84],[32.55,-0.73],[32.26,-0.77],[33.04,-0.7],[33.33,-0.68],[33.19,-0.59],[32.5,-0.36],[32.75,-0.35],[32.21,-0.42],[32.16,-0.51],[32.01,-0.55],[32.36,-0.57],[31.77,-0.6],[31.87,-0.66],[32.5,-0.47],[32.8,-0.47],[32.55,-0.4],[33.38,-0.44],[33.72,-0.46],[33.87,-0.51],[34.21,-0.49],[34.31,-0.4],[34.46,-0.44],[33.33,-0.35],[33.38,-0.39],[33.63,-0.38],[33.87,-0.38],[33.28,-0.28],[33.33,-0.23],[33.82,-0.23],[34.16,-0.21],[32.75,-0.19],[32.89,-0.1],[33.09,-0.1],[32.5,-0.24],[32.01,-0.29],[31.72,-0.34],[31.97,-0.23],[32.26,-0.15],[31.72,-0.15],[31.82,-0.08],[31.38,-0.05],[31.48,-0.23],
  [30.94,-0.21],[31.09,-0.24],[31.43,-0.27],[31.14,-0.31],[30.99,-0.35],[31.14,-0.43],[30.84,-0.38],[30.4,-0.24],[30.11,-0.19],[30.3,-0.46],[30.3,-0.42],[30.6,-0.36],[30.11,-0.4],[29.82,-0.5],[29.42,-0.46],[29.18,-0.43],[29.03,-0.42],[28.74,-0.51],[28.45,-0.46],[28.55,-0.4],[28.3,-0.36],[28.06,-0.38],[27.86,-0.43],[27.67,-0.5],[28.06,-0.51],
  [27.67,-0.62],[28.06,-0.65],[28.45,-0.62],[28.89,-0.57],[29.23,-0.57],[29.57,-0.56],[30.01,-0.58],[30.21,-0.62],[30.45,-0.59],[30.74,-0.59],[30.99,-0.64],[31.14,-0.58],[31.38,-0.66],[31.57,-0.7],[31.18,-0.74],[30.94,-0.78],[30.6,-0.73],[30.4,-0.76],[30.11,-0.72],[29.91,-0.7],[29.67,-0.73],[29.23,-0.73],[28.94,-0.7],[28.74,-0.66],[28.35,-0.73],[28.06,-0.76],[27.76,-0.81],[27.67,-0.72],
  [28.15,-0.84],[28.55,-0.81],[28.94,-0.84],[29.42,-0.8],[29.72,-0.82],[29.86,-0.88],[30.21,-0.78],[30.5,-0.85],[30.69,-0.81],[31.09,-0.82],[31.38,-0.84],[31.57,-0.87],[31.87,-0.89],[31.18,-0.89],[30.79,-0.92],[30.4,-0.92],[30.01,-0.95],[29.62,-0.93],[29.23,-0.95],[28.94,-0.96],[28.64,-0.92],[28.35,-0.97],[27.96,-0.95],[27.76,-1.0],[28.2,-1.03],[28.69,-1.03],[28.79,-1.1],[28.94,-1.12],[29.52,-0.97],[29.82,-1.0],[30.01,-1.06],[30.01,-1.09],[30.25,-0.98],[30.6,-0.97],[30.99,-0.96],[31.18,-0.95],[31.57,-0.96],[31.77,-0.95],[31.97,-1.0],
  [27.57,-0.08],[28.06,-0.06],[28.45,-0.04],[28.74,-0.08],[29.28,-0.1],[29.72,-0.08],[30.11,-0.08],[30.5,-0.06],[30.89,-0.1],[29.23,-0.17],[28.74,-0.16],[28.15,-0.16],[27.67,-0.19],[27.76,-0.29],[28.25,-0.27],[28.74,-0.25],[29.03,-0.28],[29.52,-0.28],[29.72,-0.24],[30.01,-0.34],[29.42,-0.34],[28.55,-0.34],[30.21,-0.21],[29.52,-0.39],[29.13,-0.48],
  [27.6,-0.88],[27.9,-0.83],[28.2,-0.91],[28.4,-0.78],[28.6,-0.98],[28.9,-0.88],[29.1,-0.76],[29.3,-0.9],[29.5,-0.84],[29.7,-0.98],[30.0,-0.8],[30.2,-0.9],[30.5,-0.95],[30.8,-0.86],[31.0,-0.75],[31.3,-0.96],[31.6,-0.78],[31.8,-0.83],[27.8,-0.65],[28.3,-0.6],[28.7,-0.72],[29.0,-0.62],[29.4,-0.68],[29.8,-0.6],[30.3,-0.7],[30.6,-0.65],[31.0,-0.7],[31.4,-0.6],[27.7,-0.97],[28.5,-1.05],[29.2,-1.02],[30.4,-1.04],[31.2,-1.05],
  [27.6,-0.3],[28.0,-0.2],[28.4,-0.13],[28.9,-0.33],[29.3,-0.22],[29.6,-0.45],[30.2,-0.3],[30.7,-0.13],[31.3,-0.38],[31.6,-0.19],[27.9,-0.55],[28.6,-0.47],[29.1,-0.55],[30.5,-0.52],[31.1,-0.5],
];

const midFill: [number, number][] = [
  [27.8,-1.05],[28.9,-1.06],[29.9,-1.04],[30.8,-1.05],[31.9,-1.06],
  [27.9,-0.95],[28.6,-0.94],[29.4,-0.96],[30.3,-0.95],[31.0,-0.94],[31.8,-0.96],[32.6,-0.95],
  [27.7,-0.85],[28.5,-0.86],[29.2,-0.84],[30.0,-0.85],[30.7,-0.86],[31.5,-0.84],[32.2,-0.85],[33.0,-0.86],
  [28.0,-0.75],[28.8,-0.74],[29.6,-0.76],[30.4,-0.75],[31.3,-0.74],[32.0,-0.76],[32.8,-0.75],[33.9,-0.74],
  [27.7,-0.65],[28.6,-0.66],[29.5,-0.64],[30.3,-0.65],[31.2,-0.66],[32.6,-0.64],[33.7,-0.65],
  [28.2,-0.55],[29.0,-0.54],[29.9,-0.56],[30.9,-0.55],[31.6,-0.54],[32.8,-0.56],[33.9,-0.55],
  [27.9,-0.45],[28.8,-0.46],[29.7,-0.44],[30.6,-0.45],[31.5,-0.46],[33.0,-0.44],[34.0,-0.45],
  [28.3,-0.35],[29.2,-0.34],[30.0,-0.36],[31.0,-0.35],[31.8,-0.34],[32.9,-0.36],
  [27.8,-0.25],[28.7,-0.26],[29.6,-0.24],[30.5,-0.25],[31.4,-0.26],[32.3,-0.24],[33.2,-0.25],
  [28.2,-0.15],[29.0,-0.14],[29.9,-0.16],[30.8,-0.15],[31.7,-0.14],[32.8,-0.16],[33.6,-0.15],
  [27.9,-0.05],[28.8,-0.06],[29.7,-0.04],[30.6,-0.05],[31.5,-0.06],[32.4,-0.04],[33.3,-0.05],
  [28.3,0.05],[29.2,0.04],[30.1,0.06],[31.0,0.05],[31.9,0.04],[33.0,0.06],
  [27.9,0.15],[28.8,0.16],[29.7,0.14],[30.6,0.15],[31.5,0.16],[32.4,0.14],[33.5,0.15],
  [28.4,0.25],[29.3,0.24],[30.2,0.26],[31.1,0.25],[32.0,0.24],[33.0,0.26],
  [27.8,0.35],[28.7,0.36],[29.6,0.34],[30.5,0.35],[31.4,0.36],[32.3,0.34],[33.1,0.35],
  [28.3,0.45],[29.2,0.44],[30.1,0.46],[31.0,0.45],[31.9,0.44],[32.9,0.46],
  [27.9,0.55],[28.8,0.56],[29.7,0.54],[30.6,0.55],[31.5,0.56],[32.5,0.54],[33.6,0.55],
  [28.4,0.65],[29.3,0.64],[30.2,0.66],[31.1,0.65],[32.0,0.64],[33.0,0.66],
  [27.8,0.75],[28.7,0.76],[29.6,0.74],[30.5,0.75],[31.4,0.76],[32.3,0.74],[33.5,0.75],
  [28.3,0.85],[29.2,0.84],[30.1,0.86],[31.0,0.85],[31.9,0.84],[32.9,0.86],
  [27.9,0.95],[28.8,0.96],[29.7,0.94],[30.6,0.95],[31.5,0.96],[32.4,0.94],
  [28.4,1.05],[29.3,1.04],[30.2,1.06],[31.1,1.05],[32.0,1.04],
];

// chart area in page pixels
const CANVAS_W = 4000;
const CANVAS_H = 2560;
const AREA_LEFT = 1143;
const AREA_TOP = 168;
const AREA_RIGHT = 3207;
const AREA_BOTTOM = 2326;
const PAD_LEFT = 880;

const near = (list: number[], v: number) => list.some((t) => Math.abs(t - v) < 1e-6);

const panelPlugin = {
  id: "panelDecor",
  afterDatasetsDraw(chart: any) {
    const { ctx, scales } = chart;
    ctx.save();
    ctx.font = `60px ${FONT}`;
    ctx.fillStyle = "#FF0000";
    ctx.textAlign = "right";
    ctx.textBaseline = "alphabetic";
    const x = scales.x.getPixelForValue(annotAge);
    ctx.fillText(equationText, x, scales.y.getPixelForValue(annotPc1[0]));
    ctx.fillText(r2Text, x, scales.y.getPixelForValue(annotPc1[1]));
    ctx.restore();
  },
  afterDraw(chart: any) {
    const { ctx, chartArea } = chart;
    ctx.save();
    ctx.strokeStyle = "#333333";
    ctx.lineWidth = 3.5;
    ctx.strokeRect(chartArea.left, chartArea.top, chartArea.right - chartArea.left, chartArea.bottom - chartArea.top);
    ctx.restore();
  },
};

const ScatterPanel = () => {
  const ref = useRef<HTMLCanvasElement | null>(null);

  useEffect(() => {
    if (!ref.current) return;
    const points = [
      ...upperSparse, ...olderSparse, ...youngUpperCore, ...youngLowerCore,
      ...youngDenseRows, ...youngDenseFill, ...youngMidFill, ...youngTopFill,
      ...youngLowTail, ...midUpperCore, ...midLowerCore, ...midFill,
    ].map(([x, y]) => ({ x, y }));
    const fit = fitAge.map((x, i) => ({ x, y: fitPc1[i] }));

    const chart = new Chart(ref.current, {
      type: "scatter",
      data: {
        datasets: [
          {
            data: fit,
            showLine: true,
            borderColor: "#0000FF",
            borderWidth: 14,
            pointRadius: 0,
            order: 0,
          },
          {
            data: points,
            pointRadius: 5.4,
            pointBackgroundColor: "#000000",
            pointBorderWidth: 0,
            order: 1,
          },
        ],
      },
      options: {
        animation: false,
        responsive: false,
        devicePixelRatio: 1,
        events: [],
        layout: { padding: { left: PAD_LEFT, right: CANVAS_W - AREA_RIGHT, top: AREA_TOP, bottom: 0 } },
        plugins: { legend: { display: false }, tooltip: { enabled: false }, title: { display: false } },
        scales: {
          x: {
            type: "linear",
            min: 15.25,
            max: 75.75,
            afterBuildTicks: (s: any) => {
              s.ticks = [...xMinorTicks, ...xMajorTicks].sort((a, b) => a - b).map((value) => ({ value }));
            },
            afterFit: (s: any) => {
              s.height = CANVAS_H - AREA_BOTTOM;
            },
            border: { display: false },
            grid: {
              color: "#EBEBEB",
              lineWidth: (c: any) => (near(xMajorTicks, c.tick?.value) ? 5 : 2.7),
              tickLength: 20,
              tickWidth: 4,
              tickColor: (c: any) => (near(xMajorTicks, c.tick?.value) ? "#333333" : "rgba(0,0,0,0)"),
            },
            ticks: {
              autoSkip: false,
              maxRotation: 0,
              padding: 4,
              color: "#4D4D4D",
              font: { family: FONT, size: 58 },
              callback: (v: any) => (near(xMajorTicks, Number(v)) ? String(v) : ""),
            },
            title: {
              display: true,
              text: "Age",
              color: "#000000",
              font: { family: FONT, size: 78 },
              padding: { top: 0, bottom: 51 },
            },
          },
          y: {
            type: "linear",
            min: -4.4,
            max: 4.4,
            afterBuildTicks: (s: any) => {
              s.ticks = [...yMinorTicks, ...yMajorTicks].sort((a, b) => a - b).map((value) => ({ value }));
            },
            afterFit: (s: any) => {
              s.width = AREA_LEFT - PAD_LEFT;
            },
            border: { display: false },
            grid: {
              color: "#EBEBEB",
              lineWidth: (c: any) => (near(yMajorTicks, c.tick?.value) ? 5 : 2.7),
              tickLength: 21,
              tickWidth: 4,
              tickColor: (c: any) => (near(yMajorTicks, c.tick?.value) ? "#333333" : "rgba(0,0,0,0)"),
            },
            ticks: {
              autoSkip: false,
              padding: 16,
              color: "#4D4D4D",
              font: { family: FONT, size: 58 },
              callback: (v: any) => (near(yMajorTicks, Number(v)) ? Number(v).toFixed(1) : ""),
            },
            title: {
              display: true,
              text: "PC1 value",
              color: "#000000",
              font: { family: FONT, size: 78 },
              padding: { top: 12, bottom: 0 },
            },
          },
        },
      },
      plugins: [panelPlugin],
    } as any);

    return () => {
      chart.destroy();
    };
  }, []);

  return (
    <canvas
      ref={ref}
      width={CANVAS_W}
      height={CANVAS_H}
      style={{ position: "absolute", left: 0, top: 0, width: CANVAS_W, height: CANVAS_H }}
    />
  );
};

const cellStyle: React.CSSProperties = {
  border: "3px solid #000",
  padding: 0,
  verticalAlign: "middle",
  lineHeight: "100px",
  whiteSpace: "nowrap",
};

const StatsTable = () => (
  <table
    style={{
      position: "absolute",
      left: 911,
      top: 2575,
      width: 2295,
      borderCollapse: "collapse",
      tableLayout: "fixed",
      fontFamily: FONT,
      fontSize: 100,
      color: "#000",
    }}
  >
    <colgroup>
      <col style={{ width: 1540 }} />
      <col style={{ width: 755 }} />
    </colgroup>
    <tbody>
      <tr style={{ height: 150 }}>
        <td style={{ ...cellStyle, paddingLeft: 33 }}>{tableLabels[0]}</td>
        <td style={{ ...cellStyle, textAlign: "center" }}>{coefText}</td>
      </tr>
      <tr style={{ height: 150 }}>
        <td style={{ ...cellStyle, paddingLeft: 33 }}>{tableLabels[1]}</td>
        <td style={{ ...cellStyle, textAlign: "center", fontSize: 96 }}>
          {pMantissa}
          <span style={{ margin: "0 28px" }}>×</span>
          10
          <span style={{ fontSize: 64, position: "relative", top: -34, lineHeight: 0 }}>{pExponent}</span>
        </td>
      </tr>
    </tbody>
  </table>
);

export default function App() {
  return (
    <div
      style={{
        position: "absolute",
        left: 0,
        top: 0,
        width: 4000,
        height: 2952,
        background: "#ffffff",
        overflow: "hidden",
        fontFamily: FONT,
      }}
    >
      <ScatterPanel />
      <div
        style={{
          position: "absolute",
          left: 2168 - 1000,
          width: 2000,
          top: 31,
          textAlign: "center",
          fontSize: 90,
          lineHeight: "90px",
          color: "#000",
        }}
      >
        Age vs PC1
      </div>
      <div
        style={{
          position: "absolute",
          left: 381,
          top: 133,
          fontSize: 132,
          lineHeight: "132px",
          fontWeight: 700,
          color: "#000",
        }}
      >
        a
      </div>
      <StatsTable />
    </div>
  );
}
